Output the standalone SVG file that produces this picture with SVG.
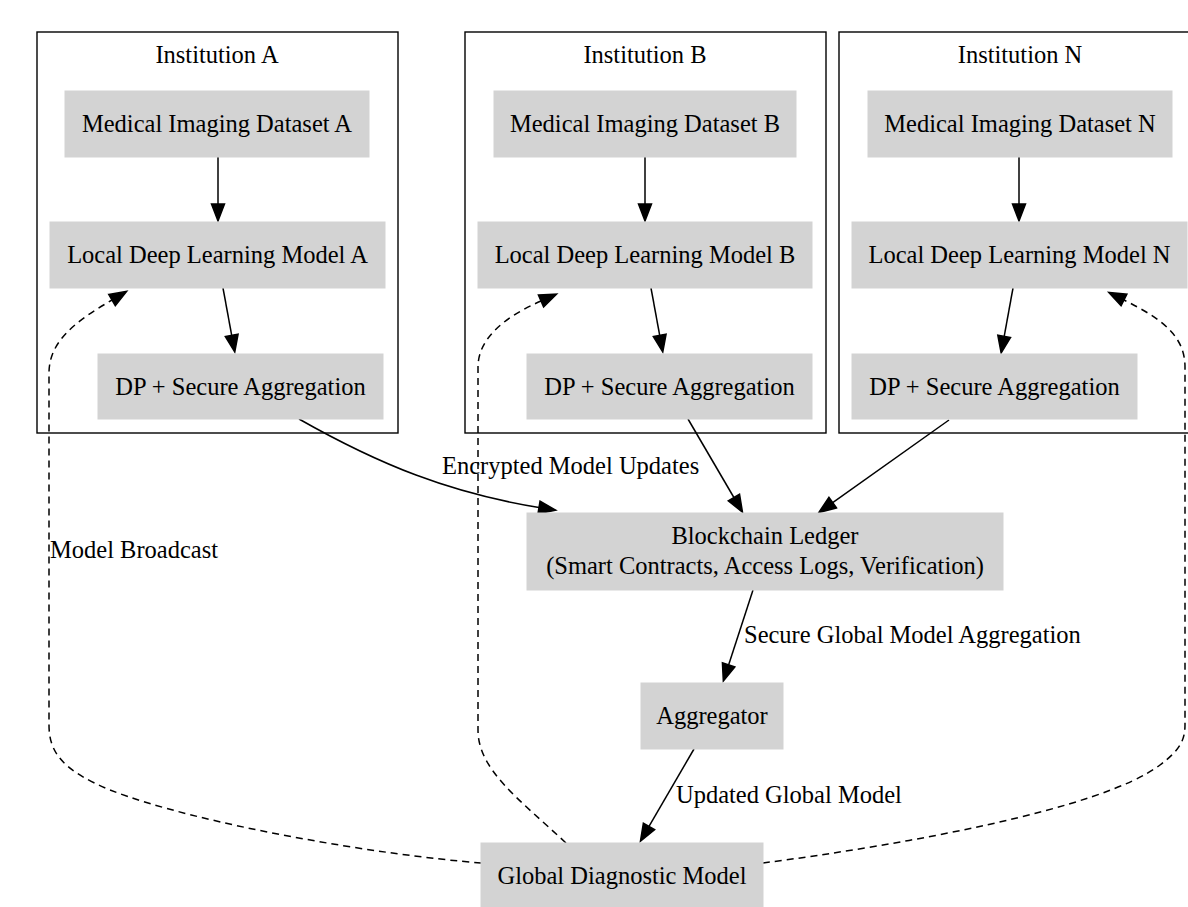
<svg xmlns="http://www.w3.org/2000/svg" width="1188" height="907" viewBox="0 0 1188 907">
<style>
text{font-family:"Liberation Serif","Times New Roman",serif;font-size:24.5px;fill:#000}
.c{text-anchor:middle}
.cl{fill:none;stroke:#000;stroke-width:1.4}
.nd{fill:#d3d3d3;stroke:#d3d3d3;stroke-width:1}
.e{fill:none;stroke:#000;stroke-width:1.5}
.d{stroke-dasharray:7,5}
</style>
<defs>
<marker id="ah" markerUnits="userSpaceOnUse" viewBox="0 0 20 16" markerWidth="20" markerHeight="16" refX="1" refY="8" orient="auto" overflow="visible">
<polygon points="1,1.5 18,8 1,14.5" fill="#000" stroke="#000" stroke-width="1.5" stroke-dasharray="none"/>
</marker>
</defs>
<rect width="1188" height="907" fill="#fff"/>
<g id="clusterA"><rect class="cl" x="37" y="32" width="361" height="401"/><text class="c" x="217" y="63">Institution A</text></g>
<g id="clusterB"><rect class="cl" x="465" y="32" width="361" height="401"/><text class="c" x="645" y="63">Institution B</text></g>
<g id="clusterN"><rect class="cl" x="839" y="32" width="362" height="401"/><text class="c" x="1020" y="63">Institution N</text></g>

<g id="edges">
<path class="e" marker-end="url(#ah)" d="M218,157 L218,204"/>
<path class="e" marker-end="url(#ah)" d="M645,157 L645,204"/>
<path class="e" marker-end="url(#ah)" d="M1019,157 L1019,204"/>
<path class="e" marker-end="url(#ah)" d="M223,288 L231.7,335.3"/>
<path class="e" marker-end="url(#ah)" d="M651,288 L659.7,335.3"/>
<path class="e" marker-end="url(#ah)" d="M1013,288 L1004.2,336.3"/>
<path class="e" marker-end="url(#ah)" d="M299,419 C380,465 450,493 539,507.5"/>
<text x="442" y="474">Encrypted Model Updates</text>
<path class="e" marker-end="url(#ah)" d="M688,419 L733.9,497.5"/>
<path class="e" marker-end="url(#ah)" d="M949,420 L832.7,502.6"/>
<path class="e" marker-end="url(#ah)" d="M753,590 L728.6,664.9"/>
<text x="744" y="643">Secure Global Model Aggregation</text>
<path class="e" marker-end="url(#ah)" d="M694,749 L649,826.4"/>
<text x="676" y="803">Updated Global Model</text>
<path class="e d" marker-end="url(#ah)" d="M481,863 C380,855 200,825 110,790 C62,770 49,752 49,725 L49,373 C49,340 78,320 112,300"/>
<text x="50" y="558">Model Broadcast</text>
<path class="e d" marker-end="url(#ah)" d="M566,843 C520,800 478,770 478,730 L478,367 C478,340 502,318 541,301"/>
<path class="e d" marker-end="url(#ah)" d="M763,863 C900,845 1100,810 1160,765 C1180,750 1185,740 1185,725 L1185,367 C1185,335 1160,318 1124,300"/>
</g>

<g id="medA"><rect class="nd" x="65" y="91" width="304" height="66"/><text class="c" x="217" y="132">Medical Imaging Dataset A</text></g>
<g id="localA"><rect class="nd" x="50" y="222" width="335" height="66"/><text class="c" x="217.5" y="263">Local Deep Learning Model A</text></g>
<g id="dpA"><rect class="nd" x="98" y="354" width="285" height="65"/><text class="c" x="240.5" y="395">DP + Secure Aggregation</text></g>

<g id="medB"><rect class="nd" x="494" y="91" width="302" height="66"/><text class="c" x="645" y="132">Medical Imaging Dataset B</text></g>
<g id="localB"><rect class="nd" x="478" y="222" width="334" height="66"/><text class="c" x="645" y="263">Local Deep Learning Model B</text></g>
<g id="dpB"><rect class="nd" x="527" y="354" width="285" height="65"/><text class="c" x="669.5" y="395">DP + Secure Aggregation</text></g>

<g id="medN"><rect class="nd" x="868" y="91" width="304" height="66"/><text class="c" x="1020" y="132">Medical Imaging Dataset N</text></g>
<g id="localN"><rect class="nd" x="852" y="222" width="335" height="66"/><text class="c" x="1019.5" y="263">Local Deep Learning Model N</text></g>
<g id="dpN"><rect class="nd" x="852" y="354" width="285" height="65"/><text class="c" x="994.5" y="395">DP + Secure Aggregation</text></g>

<g id="blockchain"><rect class="nd" x="527" y="513" width="476" height="77"/><text class="c" x="765" y="544">Blockchain Ledger</text><text class="c" x="765" y="574">(Smart Contracts, Access Logs, Verification)</text></g>
<g id="aggregator"><rect class="nd" x="641" y="683" width="142" height="66"/><text class="c" x="712" y="724">Aggregator</text></g>
<g id="global"><rect class="nd" x="481" y="843" width="282" height="66"/><text class="c" x="622" y="884">Global Diagnostic Model</text></g>
</svg>
